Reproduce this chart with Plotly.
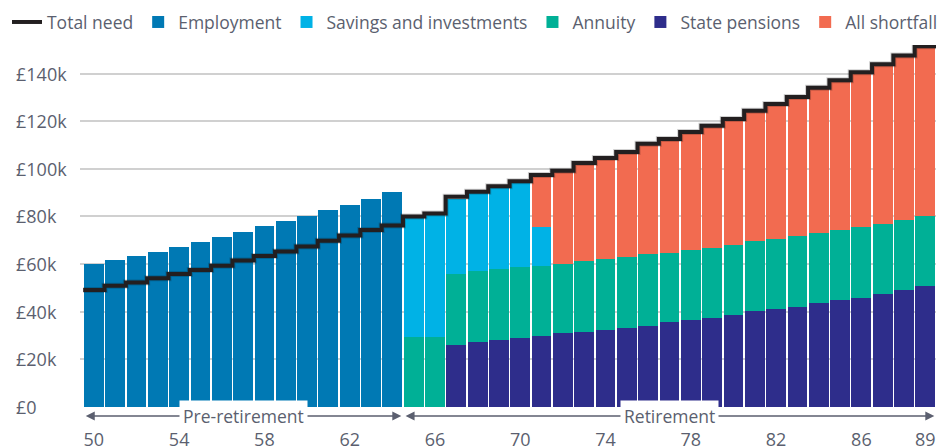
import plotly.graph_objects as go

# ---------------- data ----------------
ages = list(range(50, 90))

employment = [60.0, 61.7, 63.4, 65.0, 67.1, 69.2, 71.3, 73.4, 76.0, 78.1,
              80.2, 82.7, 84.8, 87.3, 90.2] + [0] * 25

state_pensions = [0] * 17 + [26.0, 27.3, 28.1, 29.0, 29.8, 31.1, 31.5, 32.3, 33.2,
                             34.0, 35.7, 36.5, 37.3, 38.6, 40.3, 41.1, 42.0, 43.6,
                             44.9, 45.7, 47.4, 49.1, 50.8]

annuity = [0] * 15 + [29.5, 29.5, 29.8, 29.8, 29.8, 29.7, 29.4, 29.0, 29.8, 29.8,
                      29.7, 30.2, 28.9, 29.4, 29.4, 29.4, 29.4, 29.4, 29.8, 29.4,
                      29.4, 29.8, 29.5, 29.4, 29.4]

savings = [0] * 15 + [49.7, 51.1, 31.5, 32.6, 34.1, 35.4, 16.3] + [0] * 18

shortfall = [0] * 21 + [21.5, 38.5, 40.6, 41.9, 43.6, 45.7, 47.3, 49.0, 50.8, 52.3,
                        54.1, 56.1, 57.8, 60.4, 62.3, 64.5, 66.4, 68.5, 70.7]

total_need = [49.1, 50.9, 52.3, 54.1, 55.8, 57.5, 59.3, 61.5, 63.4, 65.3,
              67.4, 69.8, 72.0, 74.3, 76.2, 80.0, 81.3, 88.3, 90.4, 92.7,
              94.8, 97.4, 99.2, 102.5, 104.6, 107.1, 110.5, 112.5, 115.5, 118.1,
              120.9, 124.4, 127.2, 130.2, 134.0, 137.2, 140.6, 143.9, 147.6, 151.5]

x_tickvals = [50, 54, 58, 62, 66, 70, 74, 78, 82, 86, 89]
y_tickvals = [0, 20, 40, 60, 80, 100, 120, 140]
y_ticktext = ["£0", "£20k", "£40k", "£60k", "£80k", "£100k", "£120k", "£140k"]

phases = [("Pre-retirement", 50, 64), ("Retirement", 65, 89)]

# ---------------- style ----------------
FONT = "Open Sans"
TXT = "#5b5f6f"
C_EMP = "#0079b4"
C_SAV = "#00b2e6"
C_ANN = "#00b096"
C_SP = "#2e2d8b"
C_SF = "#f26b50"
C_LINE = "#231f20"

fig = go.Figure()

def add_bar(name, vals, color, rank):
    fig.add_trace(go.Bar(x=ages, y=vals, name=name, marker=dict(color=color, line=dict(width=0)),
                         legendrank=rank))

add_bar("Employment", employment, C_EMP, 2)
add_bar("State pensions", state_pensions, C_SP, 5)
add_bar("Annuity", annuity, C_ANN, 4)
add_bar("Savings and investments", savings, C_SAV, 3)
add_bar("All shortfall", shortfall, C_SF, 6)

line_x = [a - 0.5 for a in ages] + [ages[-1] + 0.5]
line_y = total_need + [total_need[-1]]
fig.add_trace(go.Scatter(x=line_x, y=line_y, mode="lines", line=dict(shape="hv", width=6, color="rgba(0,0,0,0.18)"),
                         showlegend=False, hoverinfo="skip"))
fig.add_trace(go.Scatter(x=line_x, y=line_y, mode="lines", name="Total need",
                         line=dict(shape="hv", width=4, color=C_LINE), legendrank=1))

annotations = []
for v, t in zip(y_tickvals, y_ticktext):
    annotations.append(dict(x=-0.0775, xref="paper", y=v, yref="y", text=t, showarrow=False,
                            xanchor="left", yanchor="middle", font=dict(family=FONT, size=18, color=TXT)))

for label, a0, a1 in phases:
    annotations.append(dict(x=a1 + 0.42, xref="x", ax=a0 - 0.45, axref="x", y=-0.025, yref="paper",
                            ay=0, ayref="pixel", text="", showarrow=True, arrowhead=2, arrowsize=1.2,
                            arrowwidth=1.5, arrowcolor=TXT, arrowside="end+start"))
    annotations.append(dict(x=(a0 + a1) / 2, xref="x", y=-0.025, yref="paper", text=label, showarrow=False,
                            xanchor="center", yanchor="middle", bgcolor="white", borderpad=3,
                            font=dict(family=FONT, size=17.5, color=TXT)))

fig.update_layout(
    width=950, height=448,
    barmode="stack", bargap=0.07,
    plot_bgcolor="white", paper_bgcolor="white",
    margin=dict(l=80, r=14, t=45, b=41, autoexpand=False),
    font=dict(family=FONT, size=17.5, color=TXT),
    legend=dict(orientation="h", xref="paper", yref="paper", x=-0.0853, y=1.113,
                xanchor="left", yanchor="top", traceorder="normal",
                font=dict(family=FONT, size=17.5, color=TXT), bgcolor="rgba(0,0,0,0)"),
    xaxis=dict(range=[49.35, 89.5], tickvals=x_tickvals, ticks="", showgrid=False, zeroline=False,
               showline=False, ticklabelstandoff=20, tickfont=dict(family=FONT, size=18, color=TXT)),
    yaxis=dict(range=[0, 152], tickvals=y_tickvals, showticklabels=False, showgrid=True,
               gridcolor="#d0d0d0", gridwidth=1.5, zeroline=False, showline=False),
    annotations=annotations,
    showlegend=True,
)

fig.write_html("out.html", config={"displayModeBar": False},
               post_script="document.body.style.margin='0';document.body.style.padding='0';")
